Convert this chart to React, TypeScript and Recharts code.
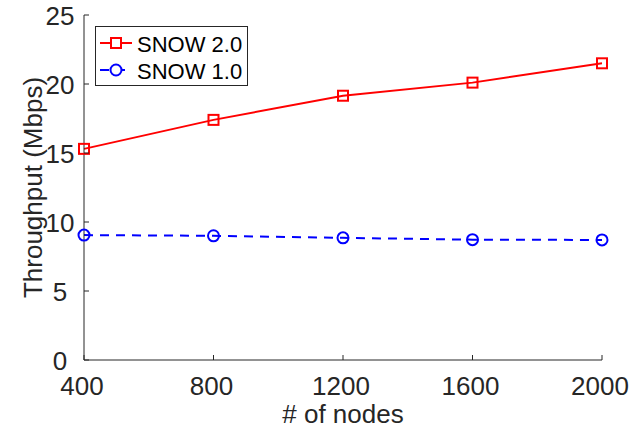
import React from 'react';
import { LineChart, Line, XAxis, YAxis, Legend } from 'recharts';

const nodes = [400, 800, 1200, 1600, 2000];
const snow2 = [15.3, 17.4, 19.15, 20.1, 21.5];
const snow1 = [9.05, 9.0, 8.85, 8.72, 8.7];
const xTicks = [400, 800, 1200, 1600, 2000];
const yTicks = [0, 5, 10, 15, 20, 25];

const data = nodes.map((n, i) => ({ nodes: n, snow2: snow2[i], snow1: snow1[i] }));

const AX = '#262626';
const FONT = '"Liberation Sans", Arial, Helvetica, sans-serif';
const TICK_LEN = 5;
const LW = 2;

const LeftTick = (props: any) => {
  const { x, y, payload } = props;
  return (
    <g>
      <line x1={x} y1={y} x2={x + TICK_LEN} y2={y} stroke={AX} strokeWidth={1} />
      <text x={x - 24} y={y + 1} textAnchor="middle" dominantBaseline="central" fontSize={26} fontFamily={FONT} fill={AX}>
        {payload.value}
      </text>
    </g>
  );
};

const RightTick = (props: any) => {
  const { x, y } = props;
  return <line x1={x} y1={y} x2={x - TICK_LEN} y2={y} stroke={AX} strokeWidth={1} />;
};

const BottomTick = (props: any) => {
  const { x, y, payload } = props;
  return (
    <g>
      <line x1={x} y1={y} x2={x} y2={y - TICK_LEN} stroke={AX} strokeWidth={1} />
      <text x={x - 2} y={y + 26} textAnchor="middle" dominantBaseline="central" fontSize={26} fontFamily={FONT} fill={AX}>
        {payload.value}
      </text>
    </g>
  );
};

const TopTick = (props: any) => {
  const { x, y } = props;
  return <line x1={x} y1={y} x2={x} y2={y + TICK_LEN} stroke={AX} strokeWidth={1} />;
};

const SquareDot = (props: any) => {
  const { cx, cy } = props;
  if (cx == null || cy == null) return null;
  return <rect x={cx - 5} y={cy - 5} width={10} height={10} fill="none" stroke="#ff0000" strokeWidth={LW} />;
};

const CircleDot = (props: any) => {
  const { cx, cy } = props;
  if (cx == null || cy == null) return null;
  return <circle cx={cx} cy={cy} r={5.5} fill="none" stroke="#0000ff" strokeWidth={LW} />;
};

const LegendBox = () => (
  <svg width={153} height={60} style={{ display: 'block' }}>
    <rect x={0.5} y={0.5} width={152} height={59} fill="#fff" stroke={AX} strokeWidth={1} />
    <line x1={5} y1={17} x2={37} y2={17} stroke="#ff0000" strokeWidth={LW} />
    <rect x={16} y={12} width={10} height={10} fill="#fff" stroke="#ff0000" strokeWidth={LW} />
    <text x={42} y={18} dominantBaseline="central" fontSize={22} fontFamily={FONT} fill="#000">SNOW 2.0</text>
    <line x1={5} y1={44} x2={37} y2={44} stroke="#0000ff" strokeWidth={LW} strokeDasharray="9 7" />
    <circle cx={21} cy={44} r={5.5} fill="#fff" stroke="#0000ff" strokeWidth={LW} />
    <text x={42} y={45} dominantBaseline="central" fontSize={22} fontFamily={FONT} fill="#000">SNOW 1.0</text>
  </svg>
);

const YLabel = (props: any) => {
  const vb = props.viewBox || {};
  const cx = (vb.x ?? 0) + 33;
  const cy = (vb.y ?? 0) + (vb.height ?? 0) / 2;
  return (
    <text x={cx} y={cy} transform={`rotate(-90, ${cx}, ${cy})`} textAnchor="middle" dominantBaseline="central" fontSize={26} fontFamily={FONT} fill={AX}>
      Throughput (Mbps)
    </text>
  );
};

const XLabel = (props: any) => {
  const vb = props.viewBox || {};
  const cx = (vb.x ?? 0) + (vb.width ?? 0) / 2;
  const cy = (vb.y ?? 0) + 54;
  return (
    <text x={cx} y={cy} textAnchor="middle" dominantBaseline="central" fontSize={26} fontFamily={FONT} fill={AX}>
      # of nodes
    </text>
  );
};

export default function App() {
  return (
    <div style={{ position: 'absolute', left: 0, top: 0, width: 636, height: 440, background: '#fff' }}>
      <LineChart width={636} height={440} data={data} margin={{ top: 15, right: 34, left: 0, bottom: 0 }}>
        <XAxis
          dataKey="nodes"
          type="number"
          domain={[400, 2000]}
          ticks={xTicks}
          height={80}
          tickSize={0}
          tickMargin={0}
          tickLine={false}
          tick={<BottomTick />}
          axisLine={{ stroke: AX, strokeWidth: 1 }}
          label={<XLabel />}
          interval={0}
        />
        <XAxis
          xAxisId="top"
          orientation="top"
          dataKey="nodes"
          type="number"
          domain={[400, 2000]}
          ticks={xTicks}
          height={0}
          tickSize={0}
          tickMargin={0}
          tickLine={false}
          tick={<TopTick />}
          axisLine={{ stroke: AX, strokeWidth: 1 }}
          interval={0}
        />
        <YAxis
          type="number"
          domain={[0, 25]}
          ticks={yTicks}
          width={84}
          tickSize={0}
          tickMargin={0}
          tickLine={false}
          tick={<LeftTick />}
          axisLine={{ stroke: AX, strokeWidth: 1 }}
          label={<YLabel />}
          interval={0}
        />
        <YAxis
          yAxisId="right"
          orientation="right"
          type="number"
          domain={[0, 25]}
          ticks={yTicks}
          width={0}
          tickSize={0}
          tickMargin={0}
          tickLine={false}
          tick={<RightTick />}
          axisLine={{ stroke: AX, strokeWidth: 1 }}
          interval={0}
        />
        <Legend
          verticalAlign="middle"
          align="center"
          layout="vertical"
          wrapperStyle={{ position: 'absolute', left: 95, top: 26, width: 153, height: 60 }}
          content={() => <LegendBox />}
        />
        <Line
          dataKey="snow2"
          stroke="#ff0000"
          strokeWidth={LW}
          dot={<SquareDot />}
          activeDot={false}
          isAnimationActive={false}
        />
        <Line
          dataKey="snow1"
          stroke="#0000ff"
          strokeWidth={LW}
          strokeDasharray="9 7"
          dot={<CircleDot />}
          activeDot={false}
          isAnimationActive={false}
        />
      </LineChart>
    </div>
  );
}
